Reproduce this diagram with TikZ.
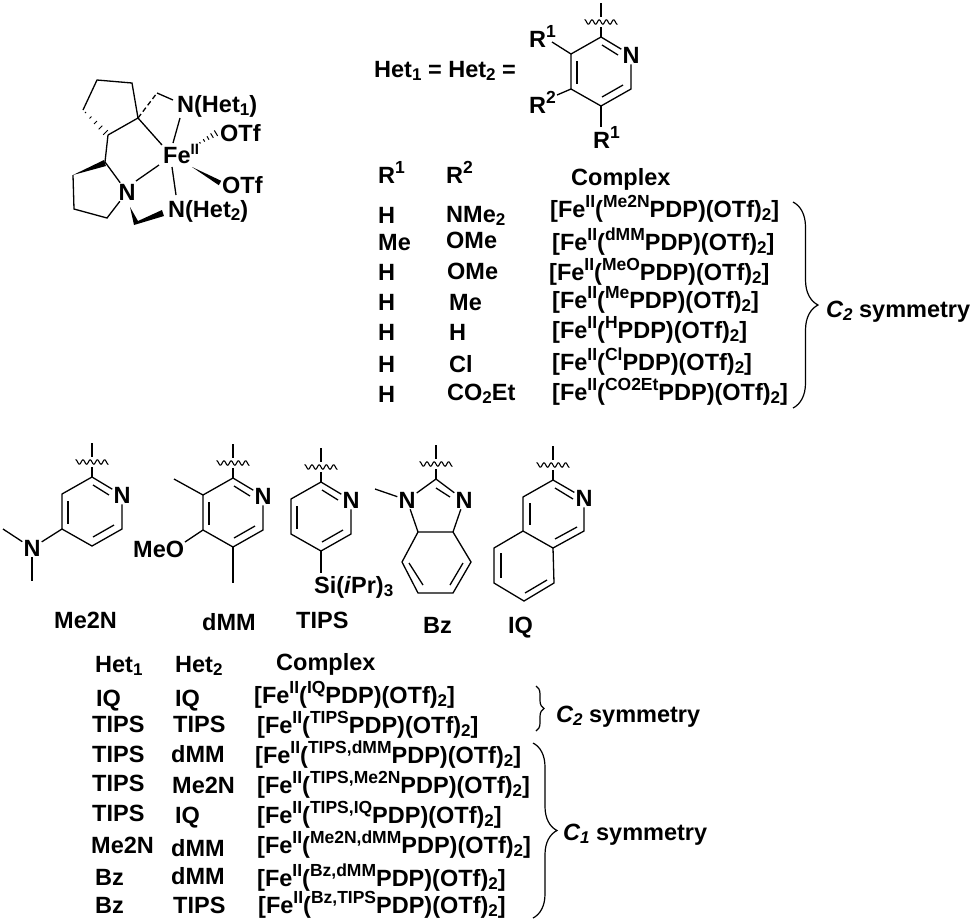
\documentclass[tikz,border=0pt]{standalone}
\usepackage{fontspec}
\setmainfont{Liberation Sans}
\usetikzlibrary{calc}
\usetikzlibrary{decorations.pathreplacing}
\newcommand*\sups[1]{\raisebox{9.5pt}{\fontsize{17.5}{17.5}\selectfont #1}}
\newcommand*\subs[1]{\raisebox{-3.5pt}{\fontsize{17}{17}\selectfont #1}}
\newcommand*\cplx[1]{[Fe\sups{II}(\sups{#1}PDP)(OTf)\subs{2}]}
\newcommand*\hashbond[2]{\foreach \t/\w in {0.1/0.8,0.3/1.4,0.5/2.0,0.7/2.6,0.9/3.2}{
            \draw[line width=1pt] ($(#1)!\t!(#2)!\w pt!90:(#2)$) -- ($(#1)!\t!(#2)!\w pt!-90:(#2)$);}}
\tikzset{
  bond/.style={line width=1.3pt},
  txt/.style={anchor=base west,inner sep=0pt,font=\fontsize{23.5}{27}\selectfont\bfseries},
  atom/.style={inner sep=1pt,font=\fontsize{23.5}{27}\selectfont\bfseries},
  curly/.style={line width=1.2pt,decorate,decoration={brace,amplitude=#1}},
  wavybond/.pic={
    \draw[bond] (0,-34) -- (0,-20);
    \draw[line width=1.1pt] plot[domain=-16.5:16.5,samples=90] (\x,{-15+2.2*sin(\x*50)});
    \draw[bond] (0,-10) -- (0,0);
  },
  pyridyl/.pic={
    \coordinate (-c2) at (0,0);
    \coordinate (-c3) at (-30,17);
    \coordinate (-c4) at (-30,52);
    \coordinate (-c5) at (0,69);
    \coordinate (-c6) at (30,52);
    \node[atom] (-n) at (30,18) {N};
    \draw[bond] (-n) -- (-c2) -- (-c3) -- (-c4) -- (-c5) -- (-c6) -- (-n);
    \draw[bond] (-24,24) -- (-24,47);
    \draw[bond] (1,60) -- (22,48);
    \draw[bond] (1,8) -- (17,18);
    \pic at (0,0) {wavybond};
  },
}

\begin{document}
\begin{tikzpicture}[x=1pt,y=-1pt]
\useasboundingbox (0,0) rectangle (973,922);
% iron complex
\coordinate (cpa) at (83,110);
\coordinate (cpb) at (97,80);
\coordinate (cpc) at (132,83);
\coordinate (cpd) at (138,118);
\coordinate (cpe) at (108,135);
\coordinate (pya) at (105,162);
\coordinate (pyb) at (73,175);
\coordinate (pyc) at (74,209);
\coordinate (pyd) at (107,218);
\coordinate (ch2a) at (157,93);
\node[atom] (npyr) at (127,192) {N};
\node[txt] (nhet1) at (177,112) {N(Het\subs{1})};
\node[txt] (fe) at (163,163) {Fe\raisebox{8.5pt}{\fontsize{15}{15}\selectfont II}};
\node[txt] (otfa) at (220,141) {OTf};
\node[txt] (otfb) at (222,193) {OTf};
\node[txt] (nhet2) at (168,217) {N(Het\subs{2})};
\draw[bond] (cpe) -- (cpd) -- (cpc) -- (cpb) -- (cpa);
\hashbond{cpa}{cpe}
\draw[bond] (cpe) -- (pya) -- (npyr);
\draw[bond] (pyb) -- (pyc) -- (pyd) -- (npyr);
\fill (pyb) -- (106,166) -- (104,160) -- cycle;
\fill (130,207) -- (138,221) -- (162,210) -- (164,216) -- (134,225) -- cycle;
\draw[bond,dash pattern=on 5pt off 3pt] (cpd) -- (ch2a);
\draw[bond] (ch2a) -- (173,100);
\draw[bond] (cpd) -- (162,145);
\draw[bond] (180,118) -- (173,143);
\draw[bond] (172,167) -- (176,195);
\draw[bond] (159,165) -- (136,181);
\hashbond{198,144}{218,132}
\fill (192,167) -- (221.2,180.8) -- (218.8,185.2) -- cycle;
% general ligand
\node[txt] (hetdef) at (374,77) {Het\subs{1} = Het\subs{2} =};
\pic (gen) at (601,37) {pyridyl};
\node[txt] (ra) at (529,47) {R\sups{1}};
\node[txt] (rb) at (529,113) {R\sups{2}};
\node[txt] (rc) at (593,148) {R\sups{1}};
\draw[bond] (552,42) -- (gen-c3);
\draw[bond] (557,95) -- (gen-c4);
\draw[bond] (gen-c5) -- (601,127);
% first table
\node[txt] (heada) at (378,183) {R\sups{1}};
\node[txt] (headb) at (446,183) {R\sups{2}};
\node[txt] (headc) at (571,185) {Complex};
\node[txt] (rowaa) at (378,223) {H};
\node[txt] (rowab) at (446,222) {NMe\subs{2}};
\node[txt] (rowac) at (550,217) {\cplx{Me2N}};
\node[txt] (rowba) at (378,250) {Me};
\node[txt] (rowbb) at (446,248) {OMe};
\node[txt] (rowbc) at (552,250) {\cplx{dMM}};
\node[txt] (rowca) at (378,280) {H};
\node[txt] (rowcb) at (447,279) {OMe};
\node[txt] (rowcc) at (549,280) {\cplx{MeO}};
\node[txt] (rowda) at (378,310) {H};
\node[txt] (rowdb) at (449,310) {Me};
\node[txt] (rowdc) at (552,308) {\cplx{Me}};
\node[txt] (rowea) at (378,340) {H};
\node[txt] (roweb) at (449,340) {H};
\node[txt] (rowec) at (552,338) {\cplx{H}};
\node[txt] (rowfa) at (378,372) {H};
\node[txt] (rowfb) at (449,372) {Cl};
\node[txt] (rowfc) at (552,370) {\cplx{Cl}};
\node[txt] (rowga) at (378,402) {H};
\node[txt] (rowgb) at (447,400) {CO\subs{2}Et};
\node[txt] (rowgc) at (552,400) {\cplx{CO2Et}};
\draw[curly=25pt] (793,202) -- (793,408);
\node[txt] (symc) at (826,317) {\textit{C\subs{2}} symmetry};
% ligand fragments
\pic (mea) at (92,477) {pyridyl};
\node[atom] (nme) at (32,548) {N};
\draw[bond] (mea-c4) -- (nme);
\draw[bond] (nme) -- (3,529);
\draw[bond] (nme) -- (32,581);
\node[txt] (labmea) at (54,628) {Me2N};
\pic (dmm) at (233,478) {pyridyl};
\node[txt] (meo) at (133,557) {MeO};
\draw[bond] (dmm-c3) -- (174,479);
\draw[bond] (dmm-c4) -- (185,542);
\draw[bond] (dmm-c5) -- (233,583);
\node[txt] (labdmm) at (202,630) {dMM};
\pic (tips) at (321,482) {pyridyl};
\node[txt] (si) at (314,593) {Si(\textit{i}Pr)\subs{3}};
\draw[bond] (tips-c5) -- (321,573);
\node[txt] (labtips) at (296,628) {TIPS};
% benzimidazole
\pic at (436,479) {wavybond};
\coordinate (bza) at (436,479);
\coordinate (bzb) at (418,532);
\coordinate (bzc) at (453,532);
\coordinate (bzd) at (402,562);
\coordinate (bze) at (418,593);
\coordinate (bzf) at (453,593);
\coordinate (bzg) at (471,562);
\node[atom] (bzn) at (407,500) {N};
\node[atom] (bzm) at (464,500) {N};
\draw[bond] (bzn) -- (bza) -- (bzm) -- (bzc) -- (bzb) -- (bzn);
\draw[bond] (bzb) -- (bzd) -- (bze) -- (bzf) -- (bzg) -- (bzc);
\draw[bond] (bzn) -- (375,489);
\draw[bond] (436,488) -- (450,497);
\draw[bond] (409,563) -- (423,585);
\draw[bond] (450,585) -- (463,563);
\node[txt] (labbz) at (423,633) {Bz};
% isoquinoline
\pic at (553,480) {wavybond};
\coordinate (iqa) at (553,480);
\coordinate (iqb) at (523,497);
\coordinate (iqc) at (523,531);
\coordinate (iqd) at (553,548);
\coordinate (iqe) at (584,531);
\coordinate (iqf) at (494,548);
\coordinate (iqg) at (494,583);
\coordinate (iqh) at (524,601);
\coordinate (iqi) at (554,583);
\node[atom] (iqn) at (584,498) {N};
\draw[bond] (iqn) -- (iqa) -- (iqb) -- (iqc) -- (iqd) -- (iqe) -- (iqn);
\draw[bond] (iqc) -- (iqf) -- (iqg) -- (iqh) -- (iqi) -- (iqd);
\draw[bond] (530,503) -- (530,525);
\draw[bond] (555,488) -- (573,499);
\draw[bond] (555,539) -- (577,527);
\draw[bond] (501,553) -- (501,578);
\draw[bond] (525,593) -- (547,580);
\node[txt] (labiq) at (508,633) {IQ};
% second table
\node[txt] (headd) at (95,672) {Het\subs{1}};
\node[txt] (heade) at (175,672) {Het\subs{2}};
\node[txt] (headf) at (276,670) {Complex};
\node[txt] (rowha) at (96,706) {IQ};
\node[txt] (rowhb) at (175,706) {IQ};
\node[txt] (rowhc) at (254,703) {\cplx{IQ}};
\node[txt] (rowia) at (92,732) {TIPS};
\node[txt] (rowib) at (173,732) {TIPS};
\node[txt] (rowic) at (257,733) {\cplx{TIPS}};
\node[txt] (rowja) at (92,762) {TIPS};
\node[txt] (rowjb) at (171,762) {dMM};
\node[txt] (rowjc) at (255,763) {\cplx{TIPS,dMM}};
\node[txt] (rowka) at (92,791) {TIPS};
\node[txt] (rowkb) at (172,793) {Me2N};
\node[txt] (rowkc) at (257,793) {\cplx{TIPS,Me2N}};
\node[txt] (rowla) at (92,821) {TIPS};
\node[txt] (rowlb) at (175,823) {IQ};
\node[txt] (rowlc) at (257,823) {\cplx{TIPS,IQ}};
\node[txt] (rowma) at (91,853) {Me2N};
\node[txt] (rowmb) at (171,856) {dMM};
\node[txt] (rowmc) at (257,853) {\cplx{Me2N,dMM}};
\node[txt] (rowna) at (95,885) {Bz};
\node[txt] (rownb) at (171,884) {dMM};
\node[txt] (rownc) at (257,886) {\cplx{Bz,dMM}};
\node[txt] (rowoa) at (95,913) {Bz};
\node[txt] (rowob) at (173,913) {TIPS};
\node[txt] (rowoc) at (258,913) {\cplx{Bz,TIPS}};
\draw[curly=8pt] (536,686) -- (536,731);
\node[txt] (symd) at (556,722) {\textit{C\subs{2}} symmetry};
\draw[curly=24pt] (533,743) -- (533,918);
\node[txt] (syme) at (563,840) {\textit{C\subs{1}} symmetry};
\end{tikzpicture}
\end{document}
